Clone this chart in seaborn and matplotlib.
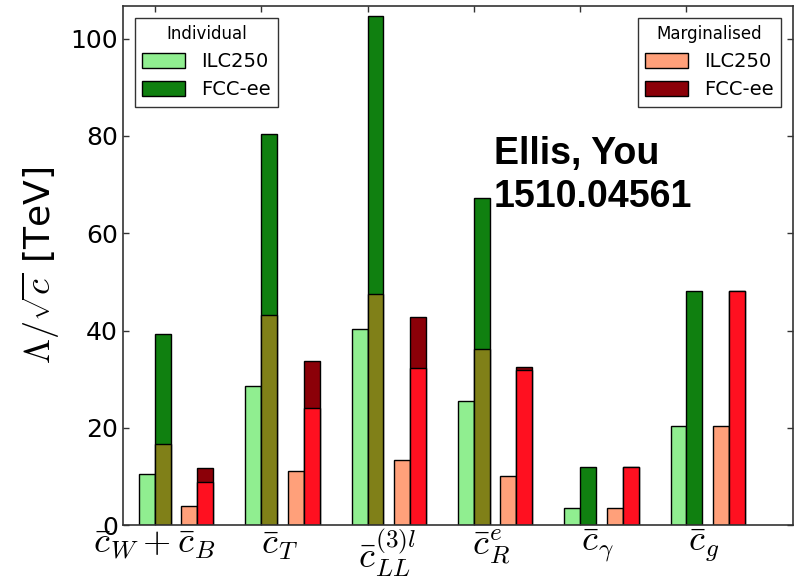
import numpy as np
import pandas as pd
import matplotlib
matplotlib.use("Agg")
import matplotlib.pyplot as plt
from matplotlib.patches import Patch
import seaborn as sns

# ---------------- data ----------------
categories = [r"$\bar{c}_W+\bar{c}_B$", r"$\bar{c}_T$", r"$\bar{c}^{(3)l}_{LL}$",
              r"$\bar{c}^{e}_{R}$", r"$\bar{c}_\gamma$", r"$\bar{c}_g$"]
ilc_individual = [10.6, 28.6, 40.4, 25.5, 3.5, 20.4]
fcc_individual = [39.3, 80.4, 104.7, 67.3, 12.0, 48.2]
fcc_individual_lower = [16.8, 43.3, 47.5, 36.2, 0.0, 0.0]
ilc_marginalised = [4.0, 11.1, 13.4, 10.2, 3.5, 20.4]
fcc_marginalised = [11.8, 33.8, 42.9, 32.6, 12.0, 48.2]
fcc_marginalised_lower = [9.0, 24.2, 32.4, 31.9, 12.0, 48.2]
y_ticks = [0, 20, 40, 60, 80, 100]

# ---------------- style ----------------
sns.set_style("ticks", {"xtick.direction": "in", "ytick.direction": "in",
                        "axes.edgecolor": "#333333"})
plt.rcParams["mathtext.fontset"] = "cm"
plt.rcParams["xtick.top"] = True
plt.rcParams["ytick.right"] = True
plt.rcParams["font.family"] = ["DejaVu Sans"]
for k in ["text.color", "axes.labelcolor", "xtick.labelcolor", "ytick.labelcolor"]:
    plt.rcParams[k] = "black"
plt.rcParams["xtick.color"] = "#333333"
plt.rcParams["ytick.color"] = "#333333"

c_lgreen = "#90ee90"
c_green = "#108010"
c_olive = "#808018"
c_salmon = "#ffa07a"
c_red = "#ff1020"
c_dred = "#8b0008"

fig = plt.figure(figsize=(7.96, 5.88), dpi=100)
ax = fig.add_axes([0.1545, 0.1066, 0.8415, 0.8832])

idx = np.arange(len(categories))
w = 0.15
offsets = [-0.075, 0.075, 0.325, 0.475]


def bars(values, off, color):
    vals = np.asarray(values, dtype=float)
    df = pd.DataFrame({"x": idx + off, "y": vals})
    df = df[df["y"] > 0]
    sns.barplot(data=df, x="x", y="y", native_scale=True, width=w,
                color=color, saturation=1, edgecolor="black", linewidth=1,
                errorbar=None, ax=ax)


bars(ilc_individual, offsets[0], c_lgreen)
bars(fcc_individual, offsets[1], c_green)
bars(fcc_individual_lower, offsets[1], c_olive)
bars(ilc_marginalised, offsets[2], c_salmon)
bars(fcc_marginalised, offsets[3], c_dred)
bars(fcc_marginalised_lower, offsets[3], c_red)

ax.set_xlim(-0.3, 6.0)
ax.set_ylim(0, 106.7)
ax.set_xticks(idx)
ax.set_xticklabels([])
ax.set_yticks(y_ticks)
ax.tick_params(axis="y", labelsize=18, length=4, width=1)
ax.tick_params(axis="x", length=4, width=1)
ax.set_xlabel("")
ax.set_ylabel(r"$\Lambda/\sqrt{c}$ [TeV]", fontsize=26, labelpad=6)
for s in ax.spines.values():
    s.set_linewidth(1.2)

label_x = [-0.01, 1.17, 2.18, 3.16, 4.16, 5.16]
for lx, lab in zip(label_x, categories):
    ax.text(lx, -0.005, lab, transform=ax.get_xaxis_transform(),
            ha="center", va="top", fontsize=26)

leg_kw = dict(fontsize=14, title_fontsize=12, fancybox=False, framealpha=1,
              edgecolor="#333333", borderaxespad=0.6, handlelength=2.2,
              handleheight=0.8, labelspacing=0.45)
leg1 = ax.legend(handles=[Patch(facecolor=c_lgreen, edgecolor="black", label="ILC250"),
                          Patch(facecolor=c_green, edgecolor="black", label="FCC-ee")],
                 title="Individual", loc="upper left", **leg_kw)
ax.add_artist(leg1)
ax.legend(handles=[Patch(facecolor=c_salmon, edgecolor="black", label="ILC250"),
                   Patch(facecolor=c_dred, edgecolor="black", label="FCC-ee")],
          title="Marginalised", loc="upper right", **leg_kw)

ax.text(3.19, 80.0, "Ellis, You\n1510.04561", fontsize=27, fontweight="bold",
        family=["Liberation Sans", "DejaVu Sans"], ha="left", va="top",
        linespacing=1.25)

fig.savefig("out.png", dpi=100)
